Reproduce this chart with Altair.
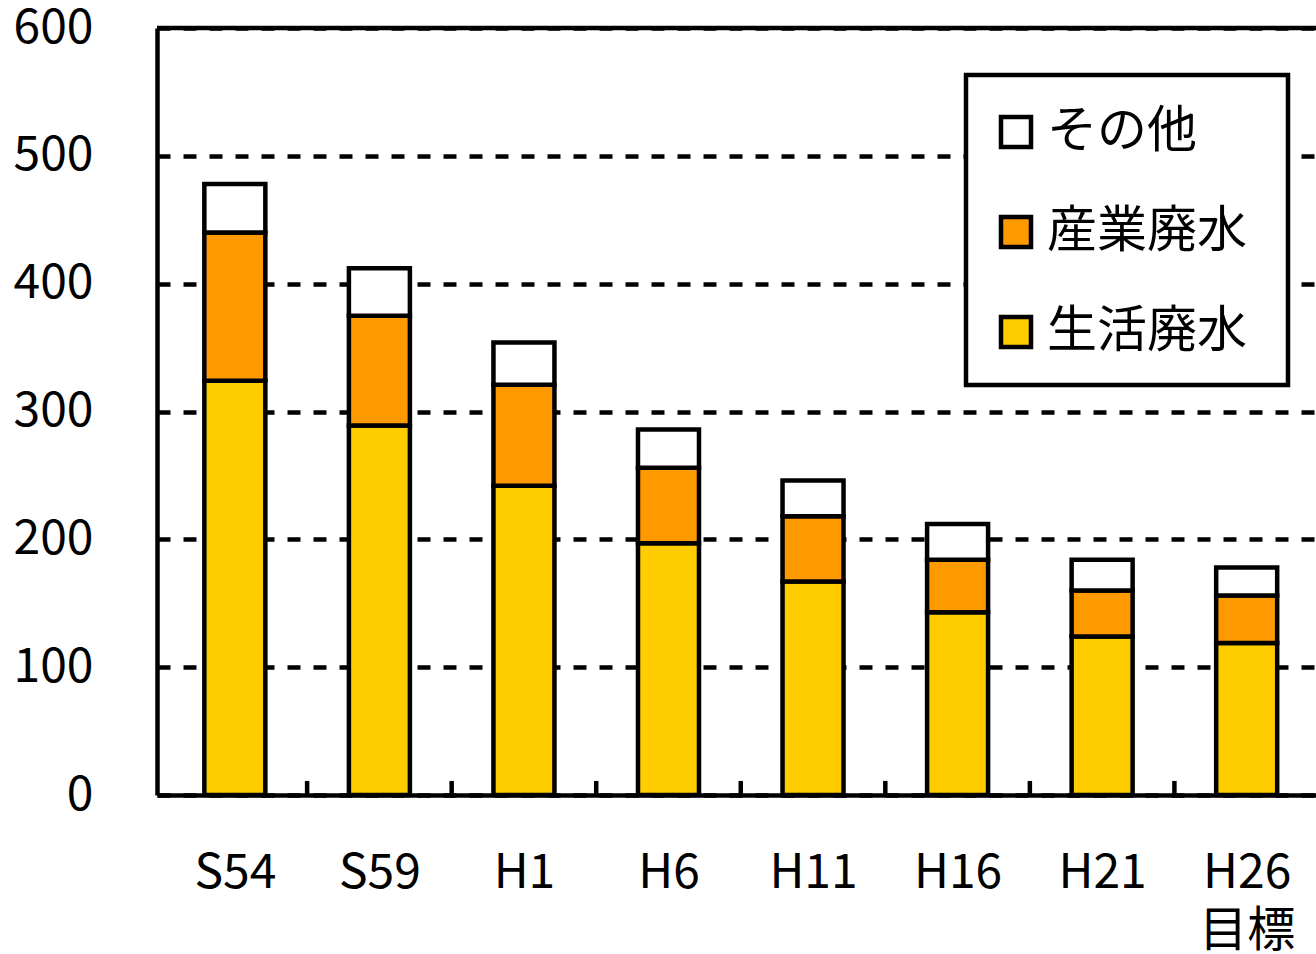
import json
import altair as alt
import pandas as pd

categories = ["S54", "S59", "H1", "H6", "H11", "H16", "H21", "H26\n目標"]
series = ["その他", "産業廃水", "生活廃水"]
colors = ["#FFFFFF", "#FF9900", "#FFCC00"]
seikatsu = [324, 289, 242, 197, 167, 143, 124, 119]
sangyo = [116, 86, 79, 59, 51, 41, 36, 37]
sonota = [38, 37, 33, 30, 28, 28, 24, 22]
y_ticks = [0, 100, 200, 300, 400, 500, 600]

rows = []
for i, c in enumerate(categories):
    rows.append({"idx": i, "cat": c, "series": "生活廃水", "order": 0, "value": seikatsu[i]})
    rows.append({"idx": i, "cat": c, "series": "産業廃水", "order": 1, "value": sangyo[i]})
    rows.append({"idx": i, "cat": c, "series": "その他", "order": 2, "value": sonota[i]})
df = pd.DataFrame(rows)

bounds = pd.DataFrame({"b": [i + 0.5 for i in range(len(categories) - 1)], "y0": 0, "y1": 11})

FONT = "Noto Sans CJK JP"
LW = 4.5
label_arr = json.dumps(categories, ensure_ascii=False)
x_scale = alt.Scale(domain=[-0.504, 7.445], nice=False, zero=False)
y_scale = alt.Scale(domain=[0, 600], nice=False)

frame = alt.Chart(pd.DataFrame({"k": [0]})).mark_rect(
    fill="white", stroke="black", strokeWidth=LW
).encode(x=alt.value(809), x2=alt.value(1131), y=alt.value(47), y2=alt.value(357))

bars = alt.Chart(df).mark_bar(size=61, stroke="black", strokeWidth=LW).encode(
    x=alt.X("idx:Q", scale=x_scale,
            axis=alt.Axis(values=list(range(len(categories))), title=None, grid=False, ticks=False,
                          labelExpr=f"split({label_arr}[datum.value], '\\n')",
                          labelFont=FONT, labelFontSize=48, labelColor="black",
                          labelPadding=54, labelLineHeight=58, labelFlush=False,
                          domainColor="black", domainWidth=LW)),
    y=alt.Y("value:Q", stack="zero", scale=y_scale,
            axis=alt.Axis(values=y_ticks, title=None, grid=True, gridColor="black", gridWidth=LW,
                          gridDash=[13, 13], ticks=False, labelFont=FONT, labelFontSize=48,
                          labelColor="black", labelPadding=64, labelFlush=False,
                          domainColor="black", domainWidth=LW)),
    color=alt.Color("series:N", scale=alt.Scale(domain=series, range=colors),
                    legend=alt.Legend(title=None, orient="none", legendX=802, legendY=47,
                                      padding=32, symbolType="square", symbolSize=900,
                                      symbolStrokeColor="black", symbolStrokeWidth=LW,
                                      labelFont=FONT, labelFontSize=50, labelColor="black",
                                      labelLimit=500, rowPadding=50, labelOffset=6)),
    order=alt.Order("order:Q"),
)

ticks = alt.Chart(bounds).mark_rule(color="black", strokeWidth=LW).encode(
    x=alt.X("b:Q", scale=x_scale), y=alt.Y("y0:Q", scale=y_scale), y2="y1:Q"
)

top = alt.Chart(pd.DataFrame({"v": [600]})).mark_rule(color="black", strokeWidth=LW).encode(
    y=alt.Y("v:Q", scale=y_scale)
)

chart = alt.layer(ticks, bars, top, frame).properties(
    width=1159, height=767,
    autosize=alt.AutoSizeParams(type="none"),
    padding={"left": 157, "top": 28, "right": 0, "bottom": 159},
).configure_view(stroke=None).configure(background="white")

chart.save("out.html", embed_options={"renderer": "svg", "actions": False})
